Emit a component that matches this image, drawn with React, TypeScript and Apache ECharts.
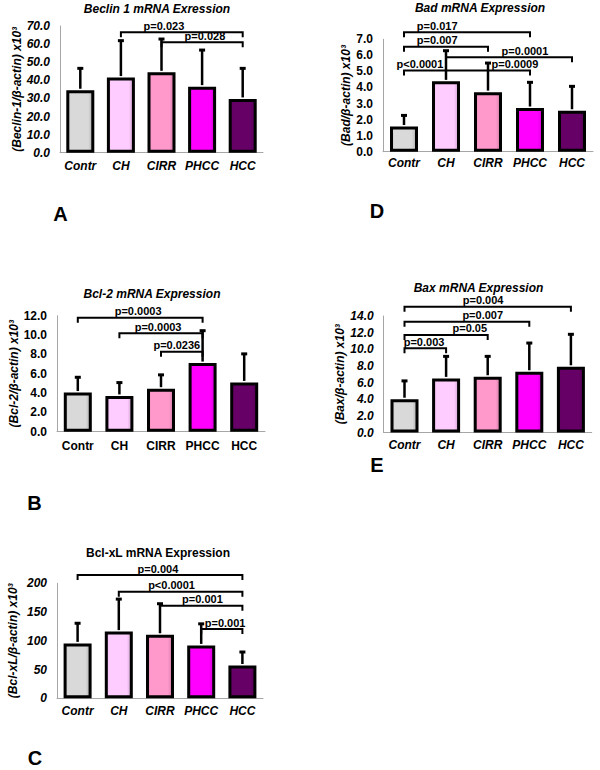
import React, { useEffect, useRef } from 'react';
import * as echarts from 'echarts';

// ---------------- DATA ----------------
const categories = ['Contr', 'CH', 'CIRR', 'PHCC', 'HCC'];
const barColors = ['#d9d9d9', '#ffccff', '#ff99cc', '#ff00ff', '#660066'];

// A: Beclin 1
const beclinMean = [34.5, 41.5, 44.4, 36.5, 29.7];
const beclinSD = [12.1, 20.4, 18.4, 20.2, 16.9];
const beclinTicks = [0, 10, 20, 30, 40, 50, 60, 70];
const beclinBrackets = [
  { from: 1, to: 4, level: 66.5, label: 'p=0.023', labelAt: 2.06 },
  { from: 2, to: 4, level: 61.0, label: 'p=0.028', labelAt: 3.07 },
];

// D: Bad
const badMean = [1.57, 4.38, 3.71, 2.72, 2.55];
const badSD = [0.69, 1.91, 1.81, 1.6, 1.52];
const badTicks = [0, 1, 2, 3, 4, 5, 6, 7];
const badBrackets = [
  { from: 0, to: 3, level: 7.44, label: 'p=0.017', labelAt: 0.79 },
  { from: 0, to: 2, level: 6.54, label: 'p=0.007', labelAt: 0.79 },
  { from: 1, to: 4, level: 5.88, label: 'p=0.0001', labelAt: 2.88 },
  { from: 0, to: 1, level: 5.05, label: 'p<0.0001', labelAt: 0.38 },
  { from: 1, to: 3, level: 5.05, label: 'p=0.0009', labelAt: 2.64 },
];

// B: Bcl-2
const bcl2Mean = [4.05, 3.7, 4.45, 7.1, 5.1];
const bcl2SD = [1.58, 1.38, 1.43, 3.35, 2.95];
const bcl2Ticks = [0, 2, 4, 6, 8, 10, 12];
const bcl2Brackets = [
  { from: 0, to: 3, level: 11.79, label: 'p=0.0003', labelAt: 1.45 },
  { from: 1, to: 3, level: 10.18, label: 'p=0.0003', labelAt: 1.93 },
  { from: 2, to: 3, level: 8.27, label: 'p=0.0236', labelAt: 2.38 },
];

// E: Bax
const baxMean = [4.0, 6.5, 6.7, 7.3, 7.9];
const baxSD = [2.2, 2.65, 2.45, 3.45, 3.9];
const baxTicks = [0, 2, 4, 6, 8, 10, 12, 14];
const baxBrackets = [
  { from: 0, to: 4, level: 15.12, label: 'p=0.004', labelAt: 1.89 },
  { from: 0, to: 3, level: 13.32, label: 'p=0.007', labelAt: 1.88 },
  { from: 0, to: 2, level: 11.72, label: 'p=0.05', labelAt: 1.57 },
  { from: 0, to: 1, level: 10.12, label: 'p=0.003', labelAt: 0.47 },
];

// C: Bcl-xL
const bclxlMean = [95.5, 116, 110.5, 92, 57];
const bclxlSD = [35, 56.5, 54, 37.5, 23.5];
const bclxlTicks = [0, 50, 100, 150, 200];
const bclxlBrackets = [
  { from: 0, to: 4, level: 214.4, label: 'p=0.004', labelAt: 1.95 },
  { from: 1, to: 4, level: 185.4, label: 'p<0.0001', labelAt: 2.28 },
  { from: 2, to: 4, level: 161, label: 'p=0.001', labelAt: 3.03 },
  { from: 3, to: 4, level: 120.5, label: 'p=0.001', labelAt: 3.58 },
];

// ---------------- LAYOUT ----------------
const FONT = '"Liberation Sans", Arial, sans-serif';

const panels = [
  {
    title: 'Beclin 1 mRNA Exression', yName: '(Beclin-1/β-actin) x10³', letter: 'A',
    means: beclinMean, sds: beclinSD, ticks: beclinTicks, decimals: 1, brackets: beclinBrackets,
    grid: { left: 60, top: 26, width: 203, height: 126.7 },
    titlePos: [157, 9], letterPos: [60.5, 214], nameGap: 36, xMargin: 7,
    titleItalic: true, tickItalic: true, xItalic: true,
  },
  {
    title: 'Bad mRNA Expression', yName: '(Bad/β-actin) x10³', letter: 'D',
    means: badMean, sds: badSD, ticks: badTicks, decimals: 1, brackets: badBrackets,
    grid: { left: 383, top: 39.3, width: 210, height: 112.4 },
    titlePos: [480, 7.5], letterPos: [377, 211], nameGap: 28, xMargin: 5,
    titleItalic: true, tickItalic: false, xItalic: true,
  },
  {
    title: 'Bcl-2 mRNA Expression', yName: '(Bcl-2/β-actin) x10³', letter: 'B',
    means: bcl2Mean, sds: bcl2SD, ticks: bcl2Ticks, decimals: 1, brackets: bcl2Brackets,
    grid: { left: 57, top: 315.7, width: 208, height: 116 },
    titlePos: [152, 294], letterPos: [34.5, 503], nameGap: 34, xMargin: 8,
    titleItalic: true, tickItalic: false, xItalic: false,
  },
  {
    title: 'Bax mRNA Expression', yName: '(Bax/β-actin) x10³', letter: 'E',
    means: baxMean, sds: baxSD, ticks: baxTicks, decimals: 1, brackets: baxBrackets,
    grid: { left: 383.7, top: 316, width: 208, height: 116.5 },
    titlePos: [478.5, 287.5], letterPos: [377, 465], nameGap: 35, xMargin: 6,
    titleItalic: true, tickItalic: true, xItalic: true,
  },
  {
    title: 'Bcl-xL mRNA Expression', yName: '(Bcl-xL/β-actin) x10³', letter: 'C',
    means: bclxlMean, sds: bclxlSD, ticks: bclxlTicks, decimals: 0, brackets: bclxlBrackets,
    grid: { left: 57, top: 583.3, width: 206, height: 115 },
    titlePos: [158, 552.7], letterPos: [35, 758], nameGap: 38, xMargin: 7,
    titleItalic: false, tickItalic: true, xItalic: true,
  },
];

function shade(hex: string, f: number) {
  const n = parseInt(hex.slice(1), 16);
  const r = Math.round(((n >> 16) & 255) * f);
  const g = Math.round(((n >> 8) & 255) * f);
  const b = Math.round((n & 255) * f);
  return `rgb(${r},${g},${b})`;
}

function barFill(hex: string) {
  return new echarts.graphic.LinearGradient(0, 0, 1, 0, [
    { offset: 0, color: shade(hex, 0.93) },
    { offset: 0.12, color: hex },
    { offset: 0.82, color: hex },
    { offset: 1, color: shade(hex, 0.8) },
  ]);
}

function buildOption() {
  const grid: any[] = [];
  const xAxis: any[] = [];
  const yAxis: any[] = [];
  const series: any[] = [];
  const graphic: any[] = [];

  panels.forEach((p, gi) => {
    grid.push({ ...p.grid, containLabel: false });
    xAxis.push({
      type: 'category', gridIndex: gi, data: categories,
      axisLine: { show: true, lineStyle: { color: '#a6a6a6', width: 1 } },
      axisTick: { show: false },
      axisLabel: {
        margin: p.xMargin, color: '#000', fontFamily: FONT, fontWeight: 'bold',
        fontStyle: p.xItalic ? 'italic' : 'normal', fontSize: 12, interval: 0,
      },
    });
    const tmin = p.ticks[0];
    const tmax = p.ticks[p.ticks.length - 1];
    const step = p.ticks[1] - p.ticks[0];
    yAxis.push({
      type: 'value', gridIndex: gi, min: tmin, max: tmax, interval: step,
      name: p.yName, nameLocation: 'middle', nameRotate: 90, nameGap: p.nameGap,
      nameTextStyle: { color: '#000', fontFamily: FONT, fontWeight: 'bold', fontStyle: 'italic', fontSize: 12 },
      axisLine: { show: true, lineStyle: { color: '#a6a6a6', width: 1 } },
      axisTick: { show: false },
      splitLine: { show: false },
      axisLabel: {
        margin: 10, color: '#000', fontFamily: FONT, fontWeight: 'bold',
        fontStyle: p.tickItalic ? 'italic' : 'normal', fontSize: 12,
        formatter: (v: number) => v.toFixed(p.decimals),
      },
    });
    series.push({
      type: 'bar', xAxisIndex: gi, yAxisIndex: gi, barWidth: 28,
      data: p.means.map((v, i) => ({
        value: v,
        itemStyle: { color: barFill(barColors[i]), borderColor: '#000', borderWidth: 3 },
      })),
      z: 2,
    });
    series.push({
      type: 'custom', xAxisIndex: gi, yAxisIndex: gi, clip: false, silent: true, z: 3,
      data: p.means.map((v, i) => [i, v, v + p.sds[i]]),
      encode: { x: 0, y: [1, 2] },
      renderItem: (params: any, api: any) => {
        const i = api.value(0);
        const lo = api.coord([i, api.value(1)]);
        const hi = api.coord([i, api.value(2)]);
        return {
          type: 'group',
          children: [
            { type: 'line', shape: { x1: lo[0], y1: lo[1] - 1.5, x2: hi[0], y2: hi[1] }, style: { stroke: '#000', lineWidth: 2.5 } },
            { type: 'line', shape: { x1: hi[0] - 3, y1: hi[1], x2: hi[0] + 3, y2: hi[1] }, style: { stroke: '#000', lineWidth: 3 } },
          ],
        };
      },
    });
    const defs = p.brackets;
    series.push({
      type: 'custom', xAxisIndex: gi, yAxisIndex: gi, clip: false, silent: true, z: 4,
      data: defs.map((d) => [d.from, d.level, d.to]),
      encode: { x: [0, 2], y: 1 },
      renderItem: (params: any, api: any) => {
        const d = defs[params.dataIndex];
        const bw = api.size([1, 0])[0];
        const a = api.coord([d.from, d.level]);
        const b = api.coord([d.to, d.level]);
        const base = api.coord([0, d.level]);
        const lx = base[0] + d.labelAt * bw;
        const t = 5;
        return {
          type: 'group',
          children: [
            {
              type: 'polyline',
              shape: { points: [[a[0], a[1] + t], [a[0], a[1]], [b[0], b[1]], [b[0], b[1] + t]] },
              style: { stroke: '#000', lineWidth: 2, fill: null },
            },
            {
              type: 'text', x: lx, y: a[1] - 6.5,
              style: { text: d.label, textAlign: 'center', textVerticalAlign: 'middle', font: `bold 11px ${FONT}`, fill: '#000' },
            },
          ],
        };
      },
    });
    graphic.push({
      type: 'text', x: p.titlePos[0], y: p.titlePos[1],
      style: {
        text: p.title, textAlign: 'center', textVerticalAlign: 'middle', fill: '#000',
        font: `${p.titleItalic ? 'italic ' : ''}bold 12px ${FONT}`,
      },
    });
    graphic.push({
      type: 'text', x: p.letterPos[0], y: p.letterPos[1],
      style: { text: p.letter, textAlign: 'center', textVerticalAlign: 'middle', fill: '#000', font: `bold 20px ${FONT}` },
    });
  });

  return { animation: false, backgroundColor: '#fff', grid, xAxis, yAxis, series, graphic };
}

export default function App() {
  const ref = useRef<HTMLDivElement>(null);
  useEffect(() => {
    if (!ref.current) return;
    const chart = echarts.init(ref.current, undefined, { renderer: 'svg' });
    chart.setOption(buildOption() as any);
    return () => chart.dispose();
  }, []);
  return <div ref={ref} style={{ position: 'fixed', left: 0, top: 0, width: 600, height: 770, background: '#fff' }} />;
}
